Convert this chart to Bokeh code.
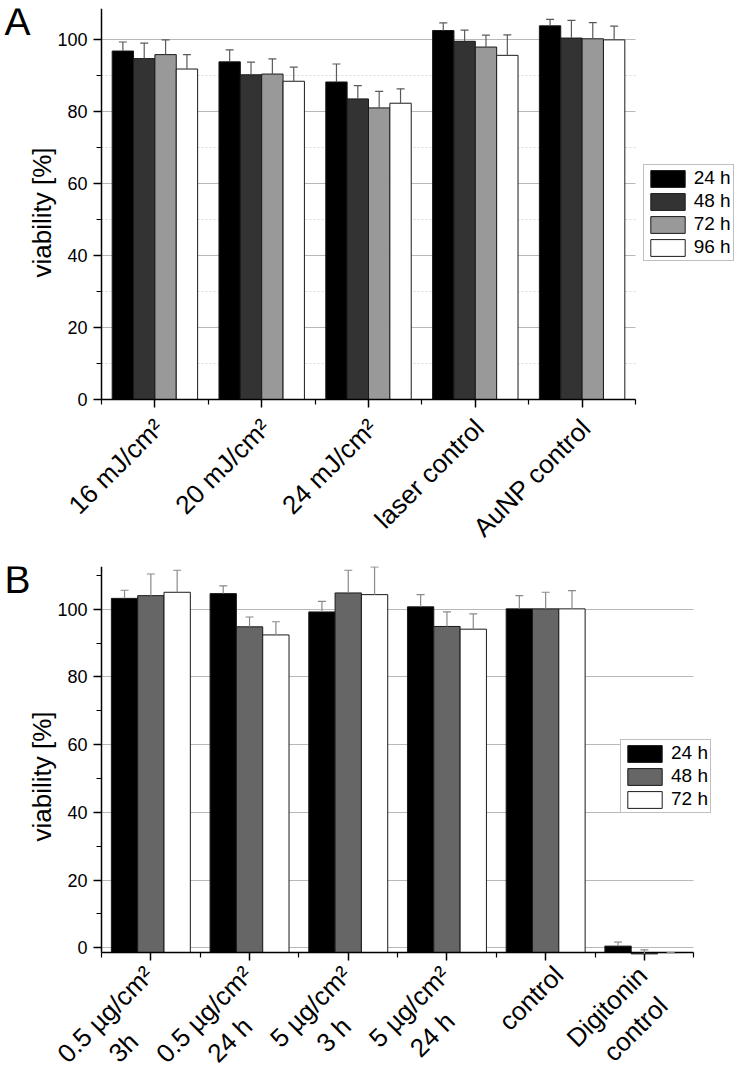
import math
import numpy as np
from bokeh.plotting import figure
from bokeh.layouts import column
from bokeh.models import (ColumnDataSource, Range1d, FixedTicker, Whisker, TeeHead, Label,
                          LinearAxis)
from bokeh.embed import file_html
from bokeh.resources import INLINE

FONT = "Liberation Sans"

# ---------------- Panel A data ----------------
a_categories = ["16 mJ/cm²", "20 mJ/cm²", "24 mJ/cm²", "laser control", "AuNP control"]
a_series = ["24 h", "48 h", "72 h", "96 h"]
a_24h = [96.8, 93.8, 88.2, 102.5, 103.8]
a_24h_err = [2.5, 3.3, 5.0, 2.1, 1.8]
a_48h = [94.7, 90.2, 83.5, 99.5, 100.4]
a_48h_err = [4.3, 3.5, 3.7, 3.1, 4.9]
a_72h = [95.8, 90.4, 81.0, 97.9, 100.2]
a_72h_err = [4.1, 4.2, 4.6, 3.3, 4.5]
a_96h = [91.8, 88.4, 82.3, 95.6, 99.9]
a_96h_err = [4.0, 3.9, 4.0, 5.7, 3.8]
a_colors = ["#000000", "#333333", "#999999", "#ffffff"]

# ---------------- Panel B data ----------------
b_categories = ["0.5 µg/cm²\n3h", "0.5 µg/cm²\n24 h", "5 µg/cm²\n3 h", "5 µg/cm²\n24 h",
                "control", "Digitonin\ncontrol"]
b_series = ["24 h", "48 h", "72 h"]
b_24h = [103.2, 104.6, 99.2, 100.7, 100.1, 0.5]
b_24h_err = [2.4, 2.3, 3.1, 3.6, 3.9, 1.2]
b_48h = [104.0, 94.8, 104.8, 94.9, 100.1, -1.8]
b_48h_err = [6.4, 2.9, 6.7, 4.3, 4.9, 1.2]
b_72h = [105.0, 92.4, 104.3, 94.1, 100.1, -1.4]
b_72h_err = [6.5, 3.9, 8.2, 4.5, 5.4, 0.0]
b_colors = ["#000000", "#666666", "#ffffff"]

# second-line centring pads (number of no-break spaces) for the two-line labels
b_pad = [8, 5, 5, 4, 0, 1]


def style_axes(p, cats, labels, label_groups, ymajor, yminor, y0, y1, ylabel_mid):
    p.background_fill_color = "white"
    p.border_fill_color = "white"
    p.outline_line_color = None
    p.xgrid.visible = False
    p.ygrid.grid_line_color = "#b8b8b8"
    p.ygrid.grid_line_width = 1
    n = len(cats)
    p.ygrid.cross_bounds = (-0.5, n - 0.5)

    # x axis: line and ticks
    xa = p.xaxis[0]
    xa.fixed_location = y0
    xa.bounds = (-0.5, n - 0.5)
    xa.ticker = FixedTicker(ticks=list(range(n)), minor_ticks=[i - 0.5 for i in range(n + 1)])
    xa.major_label_overrides = {i: "" for i in range(n)}
    xa.axis_line_width = 1.5
    xa.axis_line_color = "black"
    xa.major_tick_line_width = 1.5
    xa.minor_tick_line_width = 1.2
    xa.major_tick_out = 8
    xa.major_tick_in = 0
    xa.minor_tick_out = 5
    xa.minor_tick_in = 0

    # x axis: category labels (one label-only axis per anchoring group)
    for idx, shift, standoff in label_groups:
        pos = [i + shift for i in idx]
        la = LinearAxis(fixed_location=y0, ticker=FixedTicker(ticks=pos, minor_ticks=[]),
                        major_label_overrides={v: labels[i] for v, i in zip(pos, idx)},
                        axis_line_color=None, major_tick_line_color=None,
                        minor_tick_line_color=None, major_tick_out=0, major_tick_in=0,
                        minor_tick_out=0, minor_tick_in=0,
                        major_label_orientation=math.pi / 4,
                        major_label_text_font=FONT, major_label_text_font_size="26px",
                        major_label_text_color="black", major_label_standoff=standoff)
        p.add_layout(la, "below")

    ya = p.yaxis[0]
    ya.fixed_location = -0.5
    ya.bounds = (y0, y1)
    ya.ticker = FixedTicker(ticks=ymajor, minor_ticks=yminor)
    ya.major_label_text_font = FONT
    ya.major_label_text_font_size = "18px"
    ya.major_label_text_color = "black"
    ya.major_label_standoff = 6
    ya.axis_line_width = 1.5
    ya.axis_line_color = "black"
    ya.major_tick_line_width = 1.5
    ya.minor_tick_line_width = 1.2
    ya.major_tick_out = 8
    ya.major_tick_in = 0
    ya.minor_tick_out = 5
    ya.minor_tick_in = 0

    # y axis title on a label-only axis so that it can be centred where the original has it
    yl = LinearAxis(fixed_location=-0.5, bounds=(ylabel_mid - 40, ylabel_mid + 40),
                    ticker=FixedTicker(ticks=[], minor_ticks=[]),
                    axis_line_color=None, major_tick_line_color=None,
                    minor_tick_line_color=None, major_tick_out=0, major_tick_in=0,
                    minor_tick_out=0, minor_tick_in=0,
                    axis_label="viability [%]", axis_label_text_font=FONT,
                    axis_label_text_font_size="26px", axis_label_text_font_style="normal",
                    axis_label_text_color="black", axis_label_standoff=45)
    p.add_layout(yl, "left")


def add_bars(p, cats, series, values, errors, colors, base, err_color, cap):
    n_s = len(series)
    width = 0.8 / n_s
    xs0 = np.arange(len(cats), dtype=float)
    for k, (name, vals, errs, col) in enumerate(zip(series, values, errors, colors)):
        off = -0.4 + width * (k + 0.5)
        vals = np.asarray(vals, dtype=float)
        errs = np.asarray(errs, dtype=float)
        src = ColumnDataSource(dict(x=xs0 + off, top=vals, bottom=np.full(len(vals), base),
                                    upper=vals + errs))
        p.vbar(x="x", top="top", bottom="bottom", width=width, source=src,
               fill_color=col, line_color="#1a1a1a", line_width=1, legend_label=name)
        w = Whisker(base="x", lower="top", upper="upper", source=src, dimension="height",
                    line_color=err_color, line_width=1.2,
                    upper_head=TeeHead(size=cap, line_color=err_color, line_width=1.2),
                    lower_head=None, level="annotation")
        p.add_layout(w)


def style_legend(p, loc):
    lg = p.legend[0]
    lg.location = loc
    lg.label_text_font = FONT
    lg.label_text_font_size = "19px"
    lg.label_text_color = "black"
    lg.glyph_width = 43
    lg.glyph_height = 21
    lg.label_height = 21
    lg.label_standoff = 5
    lg.spacing = 1
    lg.padding = 2
    lg.margin = 0
    lg.border_line_color = "#808080"
    lg.border_line_width = 1
    lg.background_fill_color = "white"
    lg.background_fill_alpha = 1


FW = 748              # frame width (whole page width)

# ---------------- Figure A ----------------
A_PX = 106.8          # pixels per category
A_LEFT = 101          # pixels between frame edge and the y axis
A_YPX = 3.6           # pixels per % unit
A_TOP, A_ZERO, A_H = 8, 399, 553
a_x0 = -0.5 - A_LEFT / A_PX
a_ytop = (A_ZERO - A_TOP) / A_YPX
a_ybot = -(A_H - A_ZERO) / A_YPX
pA = figure(frame_width=FW, frame_height=A_H - A_TOP, min_border_left=0, min_border_right=0,
            min_border_top=A_TOP, min_border_bottom=0,
            x_range=Range1d(a_x0, a_x0 + FW / A_PX), y_range=Range1d(a_ybot, a_ytop),
            output_backend="svg", toolbar_location=None)
pA.ygrid.minor_grid_line_color = "#dcdcdc"
pA.ygrid.minor_grid_line_dash = "2 2"
add_bars(pA, a_categories, a_series, [a_24h, a_48h, a_72h, a_96h],
         [a_24h_err, a_48h_err, a_72h_err, a_96h_err], a_colors, 0.0, "#5a5a5a", 8)
style_axes(pA, a_categories, a_categories,
           [(list(range(len(a_categories))), 4 / A_PX, 24)],
           [0, 20, 40, 60, 80, 100], [10, 30, 50, 70, 90], 0.0, a_ytop,
           (A_ZERO - 212) / A_YPX)
style_legend(pA, (642.7, A_H - 261))
pA.add_layout(Label(x=4, y=A_H - 35 + 14, x_units="screen", y_units="screen", text="A",
                    text_font=FONT, text_font_size="39px", text_color="black",
                    text_baseline="alphabetic", text_align="left"))

# ---------------- Figure B ----------------
B_PX = 98.7
B_LEFT = 101
B_YPX = 3.386
B_BASE = -1.4
B_TOP, B_ZERO, B_H = 13, 394.3, 517     # relative to the top of figure B
b_x0 = -0.5 - B_LEFT / B_PX
b_ytop = (B_ZERO - B_TOP) / B_YPX
b_ybot = -(B_H - B_ZERO) / B_YPX
b_labels = [c + "\u00a0" * k for c, k in zip(b_categories, b_pad)]
b_single = [i for i, c in enumerate(b_categories) if "\n" not in c]
b_double = [i for i, c in enumerate(b_categories) if "\n" in c]
pB = figure(frame_width=FW, frame_height=B_H - B_TOP, min_border_left=0, min_border_right=0,
            min_border_top=B_TOP, min_border_bottom=0,
            x_range=Range1d(b_x0, b_x0 + FW / B_PX), y_range=Range1d(b_ybot, b_ytop),
            output_backend="svg", toolbar_location=None)
add_bars(pB, b_categories, b_series, [b_24h, b_48h, b_72h],
         [b_24h_err, b_48h_err, b_72h_err], b_colors, B_BASE, "#8a8a8a", 8)
style_axes(pB, b_categories, b_labels,
           [(b_single, 13 / B_PX, 18), (b_double, 11 / B_PX, 31)],
           [0, 20, 40, 60, 80, 100], [10, 30, 50, 70, 90, 110], B_BASE, b_ytop,
           (B_ZERO - (776 - 553)) / B_YPX)
style_legend(pB, (620, B_H - (813.3 - 553)))
pB.add_layout(Label(x=4, y=B_H - (593 - 553) + 14, x_units="screen", y_units="screen",
                    text="B", text_font=FONT, text_font_size="39px", text_color="black",
                    text_baseline="alphabetic", text_align="left"))

layout = column(pA, pB, spacing=0)
open("out.html", "w").write(file_html(layout, INLINE))
